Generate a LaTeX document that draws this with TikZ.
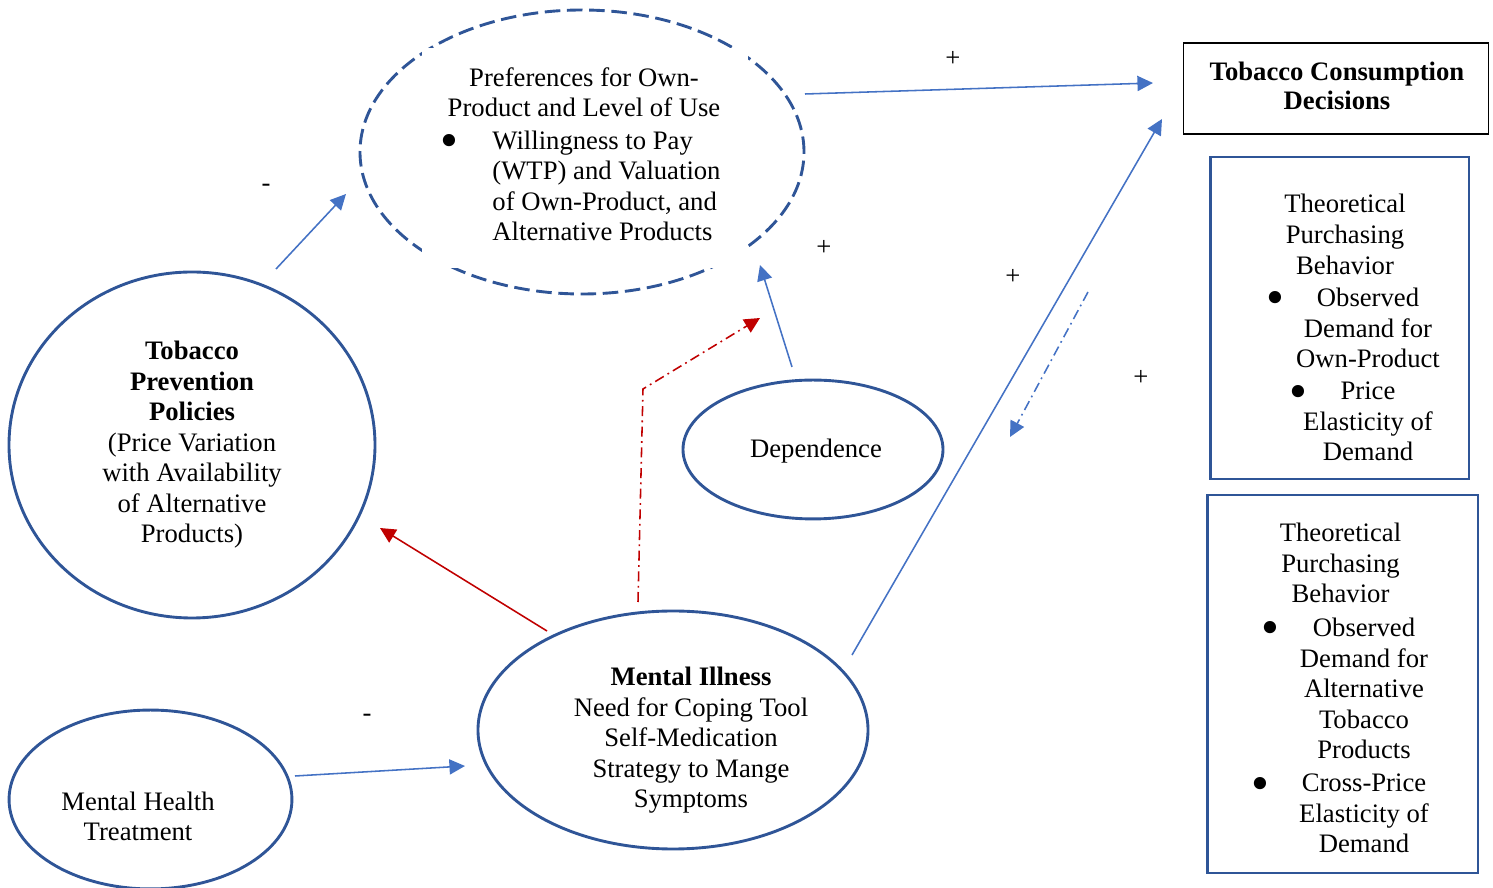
\documentclass[tikz,border=0pt]{standalone}
\usepackage{fontspec}
\setmainfont{Liberation Serif}
\usetikzlibrary{shapes.geometric,arrows.meta}
\definecolor{shapeblue}{HTML}{2F5597}
\definecolor{linkblue}{HTML}{4472C4}
\definecolor{linkred}{HTML}{C00000}
\begin{document}
\begin{tikzpicture}[x=0.45pt,y=-0.45pt,
  oval/.style={ellipse, draw=shapeblue, line width=1.3pt, inner sep=0pt},
  frame/.style={rectangle, draw=shapeblue, line width=1.3pt, inner sep=0pt},
  % multi-line texts are placed by the baseline of their last line
  txt/.style={anchor=base, inner sep=0pt, align=center,
    font=\fontsize{12pt}{13.75pt}\selectfont},
  ltxt/.style={txt, anchor=base west, align=left},
  bul/.style={anchor=base, inner sep=0pt, font=\fontsize{23pt}{23pt}\selectfont},
  sign/.style={inner sep=0pt, font=\fontsize{12pt}{13.75pt}\selectfont},
  conn/.style={draw=linkblue, line width=0.7pt,
    -{Triangle[length=7pt,width=6.8pt,fill=linkblue]}},
  redconn/.style={draw=linkred, line width=0.7pt,
    -{Triangle[length=7pt,width=6.8pt,fill=linkred]}},
  dashdot/.style={dash pattern=on 4.5pt off 2pt on 0.8pt off 2pt}
]
\useasboundingbox (0,0) rectangle (1493,888);

% ---- shapes ----
\node[oval, dashed, dash pattern=on 7pt off 3pt,
  minimum width=199.8pt, minimum height=127.8pt] (pref) at (582,152) {};
% white text frame lying over the dashed outline
\node[fill=white, inner sep=0pt, minimum width=146.7pt, minimum height=99pt]
  (prefbox) at (585,158) {};
\node[oval, minimum width=164.7pt, minimum height=155.7pt] (tpp) at (192,445) {};
\node[oval, minimum width=117pt, minimum height=62.5pt] (dep) at (813,449.5) {};
\node[oval, minimum width=175.5pt, minimum height=107.1pt] (mi) at (673,730) {};
\node[oval, minimum width=127.3pt, minimum height=80.5pt] (mht) at (150.5,799.5) {};

\node[draw=black, line width=0.7pt, inner sep=0pt,
  minimum width=137.2pt, minimum height=40.9pt] (tcd) at (1336,88.5) {};
\node[frame, minimum width=116.5pt, minimum height=144.9pt] (own) at (1339.5,318) {};
\node[frame, minimum width=121.9pt, minimum height=170.1pt] (alt) at (1342.5,684) {};

% ---- texts ----
\node[txt] (preft) at (584,117) {Preferences for Own-\\Product and Level of Use};
\node[bul] (prefb) at (449,158) {•};
\node[ltxt] (prefl) at (492,241) {Willingness to Pay\\(WTP) and Valuation\\of Own-Product, and\\Alternative Products};

\node[txt, font=\fontsize{12pt}{13.1pt}\selectfont\bfseries] (tcdt) at (1337,110)
  {Tobacco Consumption\\Decisions};

\node[txt, font=\fontsize{12pt}{13.95pt}\selectfont] (ownt) at (1345,275) {Theoretical\\Purchasing\\Behavior};
\node[bul] (ownb1) at (1275,315) {•};
\node[txt] (ownl1) at (1368,368) {Observed\\Demand for\\Own-Product};
\node[bul] (ownb2) at (1298,409) {•};
\node[txt] (ownl2) at (1368,461) {Price\\Elasticity of\\Demand};

\node[txt] (altt) at (1340.5,603) {Theoretical\\Purchasing\\Behavior};
\node[bul] (altb1) at (1270,645) {•};
\node[txt] (altl1) at (1364,759) {Observed\\Demand for\\Alternative\\Tobacco\\Products};
\node[bul] (altb2) at (1260,801) {•};
\node[txt] (altl2) at (1364,853) {Cross-Price\\Elasticity of\\Demand};

\node[txt] (tppt) at (192,543) {\textbf{Tobacco}\\\textbf{Prevention}\\\textbf{Policies}\\(Price Variation\\with Availability\\of Alternative\\Products)};
\node[txt] (dept) at (816,458) {Dependence};
\node[txt] (mit) at (691,808) {\textbf{Mental Illness}\\Need for Coping Tool\\Self-Medication\\Strategy to Mange\\Symptoms};
\node[txt] (mhtt) at (138,841) {Mental Health\\Treatment};

% ---- signs ----
\node[sign] (s1) at (953,59) {+};
\node[sign] (s2) at (266,188) {-};
\node[sign] (s3) at (824,248) {+};
\node[sign] (s4) at (1013,277) {+};
\node[sign] (s5) at (1141,378) {+};
\node[sign] (s6) at (367,718) {-};

% ---- connector end points ----
\coordinate (prefOut) at (805,94);
\coordinate (tcdIn1) at (1153,83);
\coordinate (tppOut) at (276,269);
\coordinate (prefIn1) at (346,194);
\coordinate (depOut) at (792,367);
\coordinate (prefIn2) at (760,265);
\coordinate (miOut1) at (852,655);
\coordinate (tcdIn2) at (1162,119);
\coordinate (fbStart) at (1088,292);
\coordinate (fbEnd) at (1010,437);
\coordinate (mhtOut) at (295,776);
\coordinate (miIn) at (465,766);
\coordinate (miOut2) at (547,631);
\coordinate (tppIn) at (380,528);
\coordinate (miOut3) at (638,602);
\coordinate (bend) at (643,389);
\coordinate (prefIn3) at (760,318);

% ---- connectors ----
\draw[conn] (prefOut) -- (tcdIn1);
\draw[conn] (tppOut) -- (prefIn1);
\draw[conn] (depOut) -- (prefIn2);
\draw[conn] (miOut1) -- (tcdIn2);
\draw[conn, dashdot] (fbStart) -- (fbEnd);
\draw[conn] (mhtOut) -- (miIn);
\draw[redconn] (miOut2) -- (tppIn);
\draw[redconn, dashdot] (miOut3) -- (bend) -- (prefIn3);
\end{tikzpicture}
\end{document}
